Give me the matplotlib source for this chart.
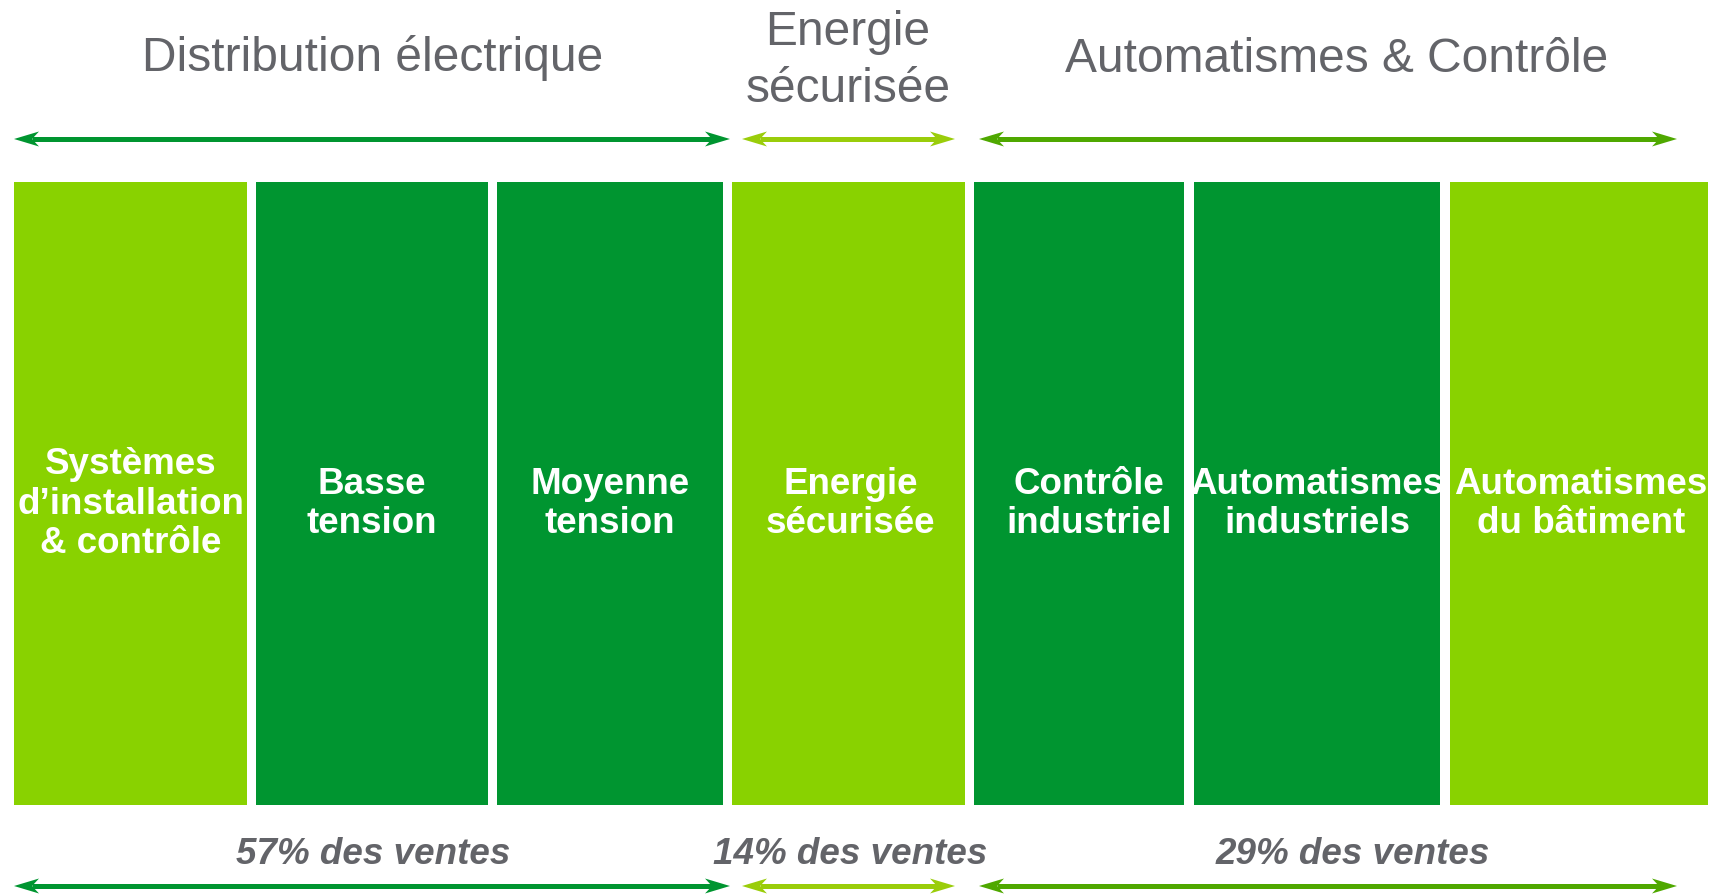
import matplotlib.pyplot as plt
from matplotlib.patches import Polygon

plt.rcParams['font.family'] = ['Liberation Sans', 'DejaVu Sans']

# --- données ---
segments = [
    "Systèmes\nd\u2019installation\n& contrôle",
    "Basse\ntension",
    "Moyenne\ntension",
    "Energie\nsécurisée",
    "Contrôle\nindustriel",
    "Automatismes\nindustriels",
    "Automatismes\ndu bâtiment",
]
segment_group = [0, 0, 0, 1, 2, 2, 2]
groups = ["Distribution électrique", "Energie\nsécurisée", "Automatismes & Contrôle"]
shares = [57, 14, 29]

# --- mise en page (pixels) ---
bar_left = [14, 256, 497, 732, 974, 1194, 1450]
bar_right = [247, 488, 723, 965, 1184, 1440, 1708]
label_dx = [0, 0, 0, 2, 10, 0, 2]
bar_top, bar_bottom = 182, 805
span_left = [14, 742, 979]
span_right = [730, 955, 1677]
head_y = [58, 61, 60]
head_x = [373, 848, 1337]
foot_x = [373, 850, 1353]

LIGHT = "#89D200"
DARK = "#009530"
bar_colors = [LIGHT, DARK, DARK, LIGHT, DARK, DARK, LIGHT]
arrow_colors = [DARK, "#9ACD0A", "#4FA800"]
GREY = "#636469"


def double_arrow(ax, x0, x1, y, color, L=25, h=7.5, lw=5):
    notch = 0.72 * L
    ax.plot([x0 + notch, x1 - notch], [y, y], color=color, lw=lw * 0.72,
            solid_capstyle="butt")
    for tip, d in ((x0, 1), (x1, -1)):
        pts = [(tip, y), (tip + d * L, y - h), (tip + d * notch, y),
               (tip + d * L, y + h)]
        ax.add_patch(Polygon(pts, closed=True, color=color, lw=0))


fig = plt.figure(figsize=(17.2, 8.94), dpi=100)
ax = fig.add_axes([0, 0, 1, 1])
ax.set_xlim(0, 1720)
ax.set_ylim(894, 0)
ax.axis("off")

for i, name in enumerate(segments):
    ax.bar(bar_left[i], bar_bottom - bar_top, width=bar_right[i] - bar_left[i],
           bottom=bar_top, align="edge", color=bar_colors[i], lw=0)
    ax.text((bar_left[i] + bar_right[i]) / 2 + label_dx[i], 504, name,
            ha="center", va="center", color="white", fontsize=26.5,
            fontweight="bold", linespacing=1.16)

for g, name in enumerate(groups):
    ax.text(head_x[g], head_y[g], name, ha="center", va="center",
            color=GREY, fontsize=34.5, linespacing=1.36)
    ax.text(foot_x[g], 855, f"{shares[g]}% des ventes", ha="center",
            va="center", color=GREY, fontsize=26.5, fontweight="bold",
            fontstyle="italic")
    double_arrow(ax, span_left[g], span_right[g], 139, arrow_colors[g])
    double_arrow(ax, span_left[g], span_right[g], 886, arrow_colors[g])

fig.savefig("out.png", dpi=100)
